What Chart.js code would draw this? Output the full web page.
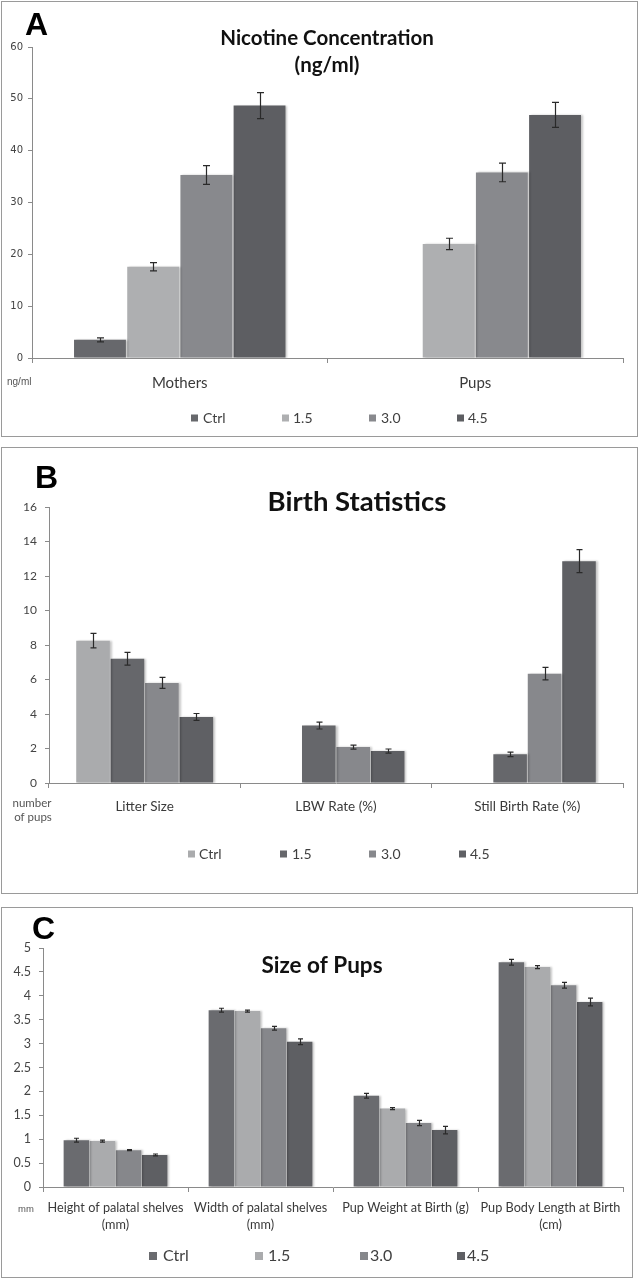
<!DOCTYPE html>
<html><head><meta charset="utf-8">
<script src="https://cdn.jsdelivr.net/npm/chart.js@4.4.0/dist/chart.umd.min.js"></script>
<style>
html,body{margin:0;padding:0;background:#fff}
body{position:relative;width:641px;height:1280px;overflow:hidden}
canvas{position:absolute;left:0}
.frame{position:absolute;border:1px solid #9a9a9a;box-sizing:border-box;pointer-events:none}
</style></head><body>
<canvas id="cA" width="641" height="440" style="top:0;width:641px;height:440px"></canvas>
<canvas id="cB" width="641" height="460" style="top:440px;width:641px;height:460px"></canvas>
<canvas id="cC" width="641" height="380" style="top:900px;width:641px;height:380px"></canvas>
<div class="frame" style="left:1px;top:1px;width:637px;height:436px"></div>
<div class="frame" style="left:1px;top:447px;width:637px;height:447px"></div>
<div class="frame" style="left:1px;top:907px;width:632px;height:371px"></div>
<script>
// ---------- DATA ----------
const seriesNames = ['Ctrl', '1.5', '3.0', '4.5'];

// Panel A: Nicotine Concentration (ng/ml)
const nicotineCategories = ['Mothers', 'Pups'];
const nicotineCtrl = [3.5, null];
const nicotine15 = [17.6, 22.0];
const nicotine30 = [35.3, 35.8];
const nicotine45 = [48.7, 46.9];
const nicotineCtrlErr = [0.4, null];
const nicotine15Err = [0.8, 1.1];
const nicotine30Err = [1.8, 1.8];
const nicotine45Err = [2.5, 2.4];
const nicotineTicks = [0, 10, 20, 30, 40, 50, 60];

// Panel B: Birth Statistics
const birthCategories = ['Litter Size', 'LBW Rate (%)', 'Still Birth Rate (%)'];
const birthCtrl = [8.25, null, null];
const birth15 = [7.2, 3.33, 1.66];
const birth30 = [5.8, 2.08, 6.34];
const birth45 = [3.83, 1.85, 12.86];
const birthCtrlErr = [0.42, null, null];
const birth15Err = [0.37, 0.2, 0.13];
const birth30Err = [0.32, 0.12, 0.36];
const birth45Err = [0.2, 0.12, 0.67];
const birthTicks = [0, 2, 4, 6, 8, 10, 12, 14, 16];

// Panel C: Size of Pups
const sizeCategories = [
  ['Height of palatal shelves', '(mm)'],
  ['Width of palatal shelves', '(mm)'],
  ['Pup Weight at Birth (g)'],
  ['Pup Body Length at Birth', '(cm)']
];
const sizeCtrl = [0.98, 3.70, 1.91, 4.70];
const size15 = [0.96, 3.68, 1.64, 4.60];
const size30 = [0.77, 3.32, 1.34, 4.22];
const size45 = [0.67, 3.04, 1.19, 3.87];
const sizeCtrlErr = [0.04, 0.04, 0.05, 0.06];
const size15Err = [0.02, 0.02, 0.02, 0.03];
const size30Err = [0.01, 0.04, 0.055, 0.06];
const size45Err = [0.02, 0.06, 0.08, 0.08];
const sizeTicks = [0, 0.5, 1, 1.5, 2, 2.5, 3, 3.5, 4, 4.5, 5];

// ---------- DRAWING ----------
const FONT = 'Lato, "Open Sans", sans-serif';

const decor = {
  id: 'decor',
  beforeDatasetsDraw(chart) {
    const c = chart.ctx;
    c.save();
    c.shadowColor = 'rgba(0,0,0,0.22)';
    c.shadowBlur = 2;
    c.shadowOffsetX = 2;
    c.shadowOffsetY = 0;
  },
  afterDatasetsDraw(chart, args, o) {
    const c = chart.ctx;
    c.restore();
    const ys = chart.scales.y;
    c.save();
    c.strokeStyle = '#2a2a2a';
    c.lineWidth = 1.2;
    chart.data.datasets.forEach((ds, i) => {
      const meta = chart.getDatasetMeta(i);
      ds.data.forEach((v, j) => {
        if (v == null) return;
        const e = ds.errors[j];
        const x = Math.round(meta.data[j].x) + 0.5;
        const t = ys.getPixelForValue(v + e), b = ys.getPixelForValue(v - e);
        c.beginPath();
        c.moveTo(x, t); c.lineTo(x, b);
        c.moveTo(x - o.cap, t); c.lineTo(x + o.cap, t);
        c.moveTo(x - o.cap, b); c.lineTo(x + o.cap, b);
        c.stroke();
      });
    });
    c.restore();
  },
  afterDraw(chart, args, o) {
    const c = chart.ctx;
    c.save();
    // panel letter
    c.fillStyle = '#000';
    c.font = 'bold 32px "Liberation Sans", Arial, sans-serif';
    c.textAlign = 'left';
    c.textBaseline = 'alphabetic';
    c.fillText(o.letter, o.letterX, o.letterY);
    // title
    c.font = 'bold ' + o.titleSize + 'px ' + FONT;
    c.textAlign = 'center';
    c.textBaseline = 'middle';
    c.fillStyle = '#111';
    o.title.forEach((t, k) => c.fillText(t, o.titleX, o.titleY + k * o.titleLH));
    // notes (unit labels)
    o.notes.forEach(n => {
      c.font = n.font;
      c.fillStyle = '#555';
      c.textAlign = n.align;
      c.fillText(n.text, n.x, n.y);
    });
    // legend
    const L = o.legend;
    c.font = L.size + 'px ' + FONT;
    c.textAlign = 'left';
    c.textBaseline = 'middle';
    chart.data.datasets.forEach((ds, i) => {
      c.fillStyle = ds.backgroundColor;
      c.fillRect(L.box[i], L.y - L.boxSize / 2, L.boxSize, L.boxSize);
      c.fillStyle = '#404040';
      c.fillText(ds.label, L.text[i], L.y);
    });
    c.restore();
  }
};

function makeChart(id, p) {
  const datasets = p.values.map((vals, i) => ({
    label: seriesNames[i],
    data: vals,
    errors: p.errors[i],
    backgroundColor: p.colors[i],
    borderWidth: 0,
    categoryPercentage: 0.72,
    barPercentage: 0.975
  }));
  return new Chart(document.getElementById(id), {
    type: 'bar',
    data: { labels: p.categories, datasets },
    plugins: [decor],
    options: {
      responsive: false,
      animation: false,
      layout: { padding: p.padding },
      plugins: {
        legend: { display: false },
        title: { display: false },
        tooltip: { enabled: false },
        decor: p.decor
      },
      scales: {
        x: {
          grid: { display: true, drawOnChartArea: false, drawTicks: true, tickLength: 5, color: '#8a8a8a', offset: true },
          border: { display: true, color: '#8a8a8a', width: 1 },
          ticks: {
            color: '#3a3a3a', padding: p.xPad, autoSkip: false, maxRotation: 0, minRotation: 0,
            font: { family: FONT, size: p.xFont, lineHeight: p.xLH }
          },
          afterFit(s) { s.height = p.xH; }
        },
        y: {
          min: p.ticks[0], max: p.ticks[p.ticks.length - 1],
          grid: { display: true, drawOnChartArea: false, drawTicks: true, tickLength: 4, color: '#8a8a8a' },
          border: { display: true, color: '#8a8a8a', width: 1 },
          ticks: {
            stepSize: p.ticks[1] - p.ticks[0], color: '#444', padding: p.yPad,
            font: { family: p.yFamily || FONT, size: p.yFont },
            callback: (v) => { const t = p.ticks.find(x => Math.abs(x - v) < 1e-9); return t === undefined ? '' : String(t); }
          },
          afterFit(s) { s.width = p.yW; }
        }
      }
    }
  });
}

makeChart('cA', {
  categories: nicotineCategories,
  values: [nicotineCtrl, nicotine15, nicotine30, nicotine45],
  errors: [nicotineCtrlErr, nicotine15Err, nicotine30Err, nicotine45Err],
  colors: ['#67686c', '#aeafb1', '#88898d', '#5d5e62'],
  ticks: nicotineTicks,
  padding: { left: 0, top: 47, right: 18, bottom: 0 },
  yW: 32, xH: 82, xPad: 11, xFont: 15, xLH: 1.2, yPad: 5, yFont: 10, yFamily: '"DejaVu Sans", sans-serif',
  decor: {
    cap: 3.5,
    letter: 'A', letterX: 25, letterY: 35,
    title: ['Nicotine Concentration', '(ng/ml)'], titleX: 327, titleY: 38, titleLH: 27, titleSize: 20.5,
    notes: [{ text: 'ng/ml', x: 7, y: 382, align: 'left', font: '10px "Liberation Sans", Arial, sans-serif' }],
    legend: { y: 418, size: 14, boxSize: 7, box: [191, 282, 369, 457], text: [203, 293, 381, 468] }
  }
});

makeChart('cB', {
  categories: birthCategories,
  values: [birthCtrl, birth15, birth30, birth45],
  errors: [birthCtrlErr, birth15Err, birth30Err, birth45Err],
  colors: ['#aaabad', '#66676b', '#87888c', '#5f6064'],
  ticks: birthTicks,
  padding: { left: 0, top: 67, right: 18, bottom: 0 },
  yW: 49, xH: 117, xPad: 10.5, xFont: 13.5, xLH: 1.2, yPad: 8, yFont: 12,
  decor: {
    cap: 3,
    letter: 'B', letterX: 35, letterY: 48,
    title: ['Birth Statistics'], titleX: 357, titleY: 62, titleLH: 0, titleSize: 27.5,
    notes: [
      { text: 'number', x: 32, y: 363, align: 'center', font: '11.5px ' + FONT },
      { text: 'of pups', x: 33, y: 377, align: 'center', font: '11.5px ' + FONT }
    ],
    legend: { y: 414, size: 14, boxSize: 7, box: [188, 280, 369, 459], text: [199, 292, 381, 470] }
  }
});

makeChart('cC', {
  categories: sizeCategories,
  values: [sizeCtrl, size15, size30, size45],
  errors: [sizeCtrlErr, size15Err, size30Err, size45Err],
  colors: ['#6a6b6f', '#aaabad', '#86878b', '#5e5f63'],
  ticks: sizeTicks,
  padding: { left: 0, top: 48, right: 18, bottom: 0 },
  yW: 43, xH: 93, xPad: 8, xFont: 12.7, xLH: 1.3, yPad: 8, yFont: 12.5,
  decor: {
    cap: 2.5,
    letter: 'C', letterX: 32, letterY: 39,
    title: ['Size of Pups'], titleX: 322, titleY: 66, titleLH: 0, titleSize: 22.5,
    notes: [{ text: 'mm', x: 18, y: 309, align: 'left', font: '9.5px "Liberation Sans", Arial, sans-serif' }],
    legend: { y: 356, size: 16, boxSize: 8, box: [149, 255, 360, 457], text: [163, 268, 370, 467] }
  }
});
</script>
</body></html>
